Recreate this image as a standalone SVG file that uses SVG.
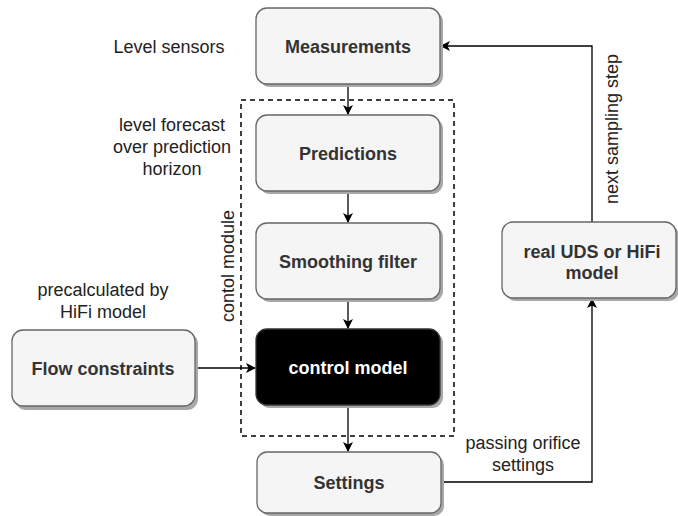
<svg xmlns="http://www.w3.org/2000/svg" width="678" height="516" viewBox="0 0 678 516">
  <style>
    .box { fill: #f5f5f5; stroke: #666666; stroke-width: 1.3; }
    .dark { fill: #000000; stroke: #333333; stroke-width: 1.3; }
    .shadow { fill: #a8a8a8; }
    .lbl { font-family: "Liberation Sans", Arial, sans-serif; font-size: 18px; font-weight: bold; fill: #333333; text-anchor: middle; }
    .lblw { font-family: "Liberation Sans", Arial, sans-serif; font-size: 18px; font-weight: bold; fill: #ffffff; text-anchor: middle; }
    .note { font-family: "Liberation Sans", Arial, sans-serif; font-size: 18px; fill: #222222; text-anchor: middle; }
    .edge { fill: none; stroke: #000000; stroke-width: 1.3; }
    .frame { fill: none; stroke: #000000; stroke-width: 1.5; stroke-dasharray: 5 4; }
  </style>
  <defs>
    <marker id="arrow" viewBox="0 0 10 10" refX="9" refY="5" markerWidth="10" markerHeight="10" markerUnits="userSpaceOnUse" orient="auto">
      <path d="M0,0 L10,5 L0,10 L2.5,5 Z" fill="#000000"/>
    </marker>
  </defs>

  <rect width="678" height="516" fill="#ffffff"/>

  <!-- control module frame -->
  <g id="control-module">
    <rect class="frame" x="241" y="100" width="213" height="336"/>
    <text class="note" transform="translate(234,266) rotate(-90)">contol module</text>
  </g>

  <!-- connectors -->
  <g id="connectors">
    <path class="edge" d="M348,84 L348,114" marker-end="url(#arrow)"/>
    <path class="edge" d="M348,191 L348,222" marker-end="url(#arrow)"/>
    <path class="edge" d="M348,299 L348,328" marker-end="url(#arrow)"/>
    <path class="edge" d="M348,405 L348,451" marker-end="url(#arrow)"/>
    <path class="edge" d="M195,368 L255,368" marker-end="url(#arrow)"/>
    <path class="edge" d="M442,482 L592,482 L592,299" marker-end="url(#arrow)"/>
    <path class="edge" d="M592,222 L592,46 L441,46" marker-end="url(#arrow)"/>
    <text class="note" transform="translate(618,129) rotate(-90)">next sampling step</text>
    <text class="note" x="523" y="449">passing orifice</text>
    <text class="note" x="523" y="471">settings</text>
  </g>

  <!-- nodes -->
  <g id="measurements">
    <rect class="shadow" x="259" y="11" width="184" height="76" rx="11"/>
    <rect class="box" x="256" y="8" width="184" height="76" rx="11"/>
    <text class="lbl" x="348" y="53">Measurements</text>
  </g>
  <g id="level-sensors-note">
    <text class="note" x="169" y="53">Level sensors</text>
  </g>

  <g id="predictions">
    <rect class="shadow" x="259" y="118" width="184" height="76" rx="11"/>
    <rect class="box" x="256" y="115" width="184" height="76" rx="11"/>
    <text class="lbl" x="348" y="160">Predictions</text>
  </g>
  <g id="forecast-note">
    <text class="note" x="172" y="131">level forecast</text>
    <text class="note" x="172" y="153">over prediction</text>
    <text class="note" x="172" y="175">horizon</text>
  </g>

  <g id="smoothing-filter">
    <rect class="shadow" x="259" y="226" width="184" height="76" rx="11"/>
    <rect class="box" x="256" y="223" width="184" height="76" rx="11"/>
    <text class="lbl" x="348" y="268">Smoothing filter</text>
  </g>

  <g id="control-model">
    <rect class="shadow" x="259" y="332" width="184" height="76" rx="11"/>
    <rect class="dark" x="256" y="329" width="184" height="76" rx="11"/>
    <text class="lblw" x="348" y="374">control model</text>
  </g>

  <g id="flow-constraints">
    <rect class="shadow" x="15" y="333" width="183" height="77" rx="11"/>
    <rect class="box" x="12" y="330" width="183" height="76" rx="11"/>
    <text class="lbl" x="103" y="375">Flow constraints</text>
  </g>
  <g id="hifi-note">
    <text class="note" x="103" y="296">precalculated by</text>
    <text class="note" x="103" y="318">HiFi model</text>
  </g>

  <g id="settings">
    <rect class="shadow" x="260" y="455" width="184" height="61" rx="10"/>
    <rect class="box" x="257" y="452" width="184" height="61" rx="10"/>
    <text class="lbl" x="349" y="489">Settings</text>
  </g>

  <g id="real-uds">
    <rect class="shadow" x="505" y="225" width="174" height="76" rx="11"/>
    <rect class="box" x="502" y="222" width="174" height="76" rx="11"/>
    <text class="lbl" x="592" y="258">real UDS or HiFi</text>
    <text class="lbl" x="592" y="279">model</text>
  </g>
</svg>
